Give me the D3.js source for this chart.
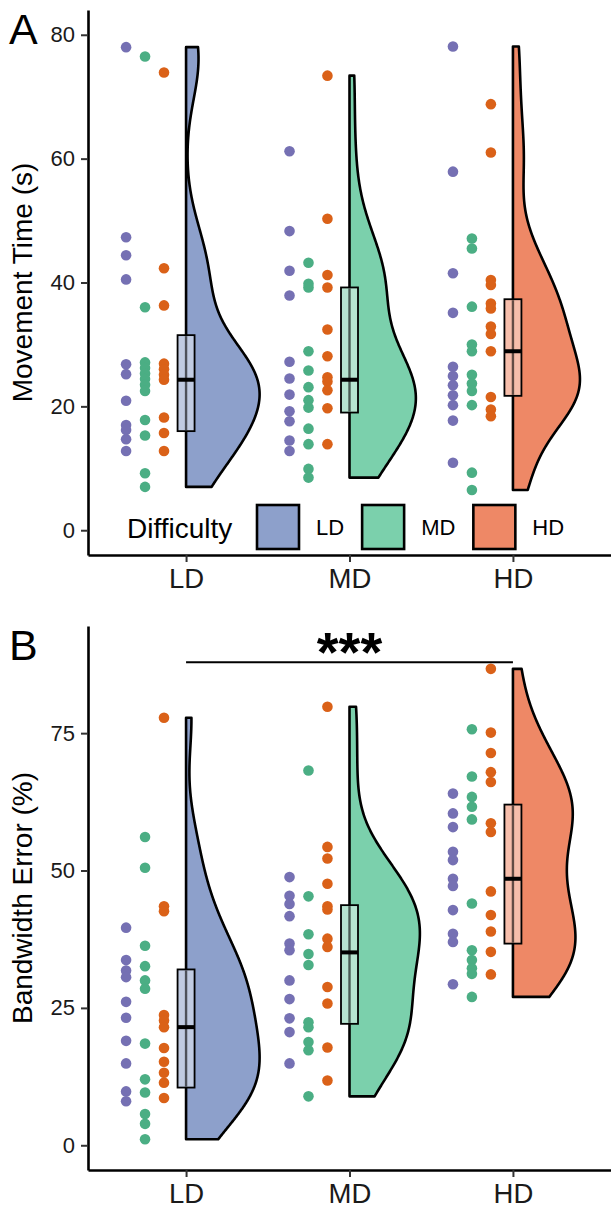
<!DOCTYPE html>
<html>
<head>
<meta charset="utf-8">
<script src="https://cdn.jsdelivr.net/npm/d3@7"></script>
<style>
  body { margin: 0; background: #fff; }
  text { font-family: "Liberation Sans", Arial, sans-serif; }
</style>
</head>
<body>
<svg id="chart" width="611" height="1208"></svg>
<script>
// categories and point groups
const cats = ["LD", "MD", "HD"];
const violinColors = ["#8DA0CB", "#7BD0AC", "#EE8866"];
const pointColors = ["#7570B3", "#4BAE84", "#DA6118"];
const pointOffsets = [-0.367, -0.251, -0.135];

// Movement Time (s), per category LD / MD / HD
const movePurple = [
  [78.0, 47.3, 44.4, 40.5, 26.8, 25.2, 20.9, 17.0, 16.2, 14.7, 12.8],
  [61.2, 48.3, 41.9, 37.9, 27.2, 24.5, 21.9, 19.2, 17.6, 14.5, 12.8],
  [78.1, 57.9, 41.5, 35.1, 26.4, 24.9, 23.4, 21.8, 20.2, 17.7, 10.9]
];
const moveGreen = [
  [76.5, 36.0, 27.1, 26.2, 25.3, 24.4, 23.5, 22.5, 17.8, 15.3, 9.2, 7.0],
  [43.2, 39.8, 39.2, 28.9, 25.8, 23.1, 21.0, 19.8, 16.4, 13.9, 9.9, 8.5],
  [47.1, 45.5, 36.1, 30.0, 28.9, 25.1, 23.7, 22.5, 20.2, 9.3, 6.5]
];
const moveOrange = [
  [73.9, 42.3, 36.3, 26.9, 26.0, 25.1, 24.3, 18.2, 15.7, 12.8],
  [73.4, 50.3, 41.2, 39.2, 32.4, 28.1, 24.7, 24.0, 22.6, 19.7, 13.9],
  [68.8, 61.0, 40.4, 39.6, 36.6, 35.8, 32.9, 31.7, 28.9, 21.5, 19.5, 18.4]
];
// box stats: q1, median, q3
const moveQ1 = [16.0, 19.0, 21.7];
const moveMed = [24.3, 24.3, 28.9];
const moveQ3 = [31.5, 39.2, 37.3];

// Bandwidth Error (%), per category LD / MD / HD
const bandPurple = [
  [39.6, 33.7, 31.8, 30.6, 26.1, 23.2, 19.0, 14.9, 9.8, 8.0],
  [48.8, 45.4, 43.9, 41.7, 36.7, 35.5, 30.0, 26.6, 23.1, 20.6, 14.9],
  [64.0, 60.4, 57.9, 53.4, 51.9, 48.5, 47.2, 42.8, 38.5, 37.0, 29.3]
];
const bandGreen = [
  [56.1, 50.5, 36.3, 32.6, 30.0, 28.5, 18.5, 12.0, 9.6, 5.7, 3.9, 1.1],
  [68.2, 45.3, 38.4, 34.8, 32.8, 22.4, 21.5, 18.8, 17.3, 8.9],
  [75.7, 67.1, 63.4, 61.6, 59.3, 44.0, 35.5, 33.7, 32.2, 31.2, 27.0]
];
const bandOrange = [
  [77.8, 43.5, 42.6, 23.7, 22.7, 21.5, 17.7, 15.2, 13.2, 11.4, 8.6],
  [79.8, 54.3, 52.2, 47.6, 43.5, 42.9, 37.6, 36.1, 28.8, 25.8, 17.8, 11.8],
  [86.7, 75.1, 71.4, 67.9, 66.1, 58.6, 57.0, 46.2, 41.9, 38.9, 35.2, 31.1]
];
const bandQ1 = [10.5, 22.1, 36.7];
const bandMed = [21.5, 35.1, 48.5];
const bandQ3 = [32.0, 43.7, 62.0];

const moveTicks = [0, 20, 40, 60, 80];
const bandTicks = [0, 25, 50, 75];
const sigLevel = 87.9; // bracket LD-HD
const sigLabel = "***";

const svg = d3.select("#chart");
const font = '"Liberation Sans", Arial, sans-serif';

const x = d3.scaleLinear().domain([0.4, 3.6]).range([88, 611]);

function bwNrd0(v) {
  const s = v.slice().sort(d3.ascending);
  const iqr = d3.quantile(s, 0.75) - d3.quantile(s, 0.25);
  const lo = Math.min(d3.deviation(s), iqr / 1.34);
  return 0.9 * lo * Math.pow(s.length, -0.2);
}

function kde(v) {
  const bw = bwNrd0(v);
  const lo = d3.min(v), hi = d3.max(v);
  const out = [];
  for (let i = 0; i < 512; i++) {
    const t = lo + (hi - lo) * i / 511;
    const d = d3.sum(v, u => Math.exp(-0.5 * ((t - u) / bw) ** 2)) / (v.length * bw * Math.sqrt(2 * Math.PI));
    out.push([t, d]);
  }
  return out;
}

function drawPanel(opts) {
  const { series, q1, med, q3, y, ticks, title, label, top, bottom } = opts;
  const g = svg.append("g");

  const all = cats.map((c, i) => series.flatMap(s => s[i]));
  const dens = all.map(kde);
  const maxD = d3.max(dens, d => d3.max(d, p => p[1]));
  const halfW = 0.45;

  // half violins
  dens.forEach((d, i) => {
    const area = d3.area()
      .x0(() => x(i + 1))
      .x1(p => x(i + 1 + halfW * p[1] / maxD))
      .y(p => y(p[0]));
    g.append("path")
      .attr("d", area(d))
      .attr("fill", violinColors[i])
      .attr("stroke", "#000")
      .attr("stroke-width", 2.6)
      .attr("stroke-linejoin", "round");
  });

  // boxes
  cats.forEach((c, i) => {
    const cx = x(i + 1);
    const light = d3.interpolateRgb(violinColors[i], "#fff")(0.45);
    g.append("rect")
      .attr("x", cx - 8.5).attr("width", 17)
      .attr("y", y(q3[i])).attr("height", y(q1[i]) - y(q3[i]))
      .attr("fill", light)
      .attr("stroke", "#000").attr("stroke-width", 1.8);
    g.append("line")
      .attr("x1", cx).attr("x2", cx)
      .attr("y1", y(q3[i]) + 1).attr("y2", y(q1[i]) - 1)
      .attr("stroke", "#000").attr("stroke-opacity", 0.6).attr("stroke-width", 2.4);
    g.append("line")
      .attr("x1", cx - 8.5).attr("x2", cx + 8.5)
      .attr("y1", y(med[i])).attr("y2", y(med[i]))
      .attr("stroke", "#000").attr("stroke-width", 4);
  });

  // points
  series.forEach((s, k) => {
    s.forEach((vals, i) => {
      g.selectAll(null)
        .data(vals)
        .enter()
        .append("circle")
        .attr("cx", x(i + 1 + pointOffsets[k]))
        .attr("cy", v => y(v))
        .attr("r", 5.3)
        .attr("fill", pointColors[k]);
    });
  });

  // axes
  const ya = g.append("g").attr("transform", "translate(88,0)")
    .call(d3.axisLeft(y).tickValues(ticks).tickSize(7).tickSizeOuter(0).tickPadding(6));
  ya.select(".domain").attr("stroke", "#000").attr("stroke-width", 2.6);
  ya.selectAll(".tick line").attr("stroke", "#333").attr("stroke-width", 2);
  ya.selectAll(".tick text").attr("font-family", font).attr("font-size", 22).attr("fill", "#1a1a1a");

  const xa = g.append("g").attr("transform", `translate(0,${bottom})`)
    .call(d3.axisBottom(x).tickValues([1, 2, 3]).tickFormat(d => cats[d - 1])
      .tickSize(7).tickSizeOuter(0).tickPadding(6));
  xa.select(".domain").attr("stroke", "#000").attr("stroke-width", 2.6);
  xa.selectAll(".tick line").attr("stroke", "#333").attr("stroke-width", 2);
  xa.selectAll(".tick text").attr("font-family", font).attr("font-size", 27.5).attr("fill", "#1a1a1a");

  g.append("text")
    .attr("transform", `translate(32,${(top + bottom) / 2}) rotate(-90)`)
    .attr("text-anchor", "middle")
    .attr("font-size", 28)
    .attr("fill", "#000")
    .text(title);

  g.append("text")
    .attr("x", 9).attr("y", top + 34)
    .attr("font-size", 43)
    .attr("fill", "#000")
    .text(label);

  return g;
}

const yA = d3.scaleLinear().domain([-4, 84]).range([555, 10]);
const gA = drawPanel({
  series: [movePurple, moveGreen, moveOrange], q1: moveQ1, med: moveMed, q3: moveQ3,
  y: yA, ticks: moveTicks, title: "Movement Time (s)", label: "A", top: 10, bottom: 555
});

// legend inside panel A
const leg = gA.append("g");
leg.append("text")
  .attr("x", 127).attr("y", 538)
  .attr("font-size", 28).attr("fill", "#000")
  .text("Difficulty");
let lx = 257;
cats.forEach((c, i) => {
  leg.append("rect")
    .attr("x", lx).attr("y", 505).attr("width", 42).attr("height", 44)
    .attr("fill", violinColors[i]).attr("stroke", "#000").attr("stroke-width", 2.6);
  const t = leg.append("text")
    .attr("x", lx + 59).attr("y", 535)
    .attr("font-size", 22).attr("fill", "#000")
    .text(c);
  lx = lx + 59 + t.node().getComputedTextLength() + 18;
});

const yB = d3.scaleLinear().domain([-4.5, 94.5]).range([1170, 626]);
const gB = drawPanel({
  series: [bandPurple, bandGreen, bandOrange], q1: bandQ1, med: bandMed, q3: bandQ3,
  y: yB, ticks: bandTicks, title: "Bandwidth Error (%)", label: "B", top: 626, bottom: 1170
});

// significance bracket
gB.append("line")
  .attr("x1", x(1)).attr("x2", x(3))
  .attr("y1", yB(sigLevel)).attr("y2", yB(sigLevel))
  .attr("stroke", "#000").attr("stroke-width", 2);
gB.append("text")
  .attr("x", x(2)).attr("y", yB(sigLevel) + 9)
  .attr("text-anchor", "middle")
  .attr("font-size", 56)
  .attr("font-weight", "bold")
  .attr("fill", "#000")
  .text(sigLabel);
</script>
</body>
</html>
